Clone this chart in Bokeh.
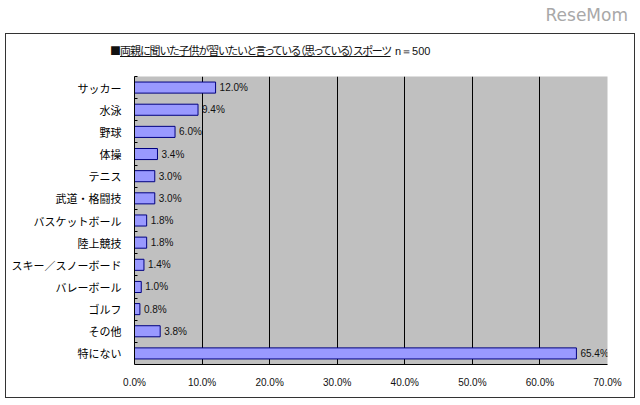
from bokeh.plotting import figure
from bokeh.models import (ColumnDataSource, Range1d, FixedTicker, Div,
                          NumeralTickFormatter)
from bokeh.layouts import column
from bokeh.embed import file_html
from bokeh.resources import INLINE

# --- data (top to bottom) ---
sports = ["サッカー", "水泳", "野球", "体操", "テニス", "武道・格闘技",
          "バスケットボール", "陸上競技", "スキー／スノーボード", "バレーボール",
          "ゴルフ", "その他", "特にない"]
pct = [12.0, 9.4, 6.0, 3.4, 3.0, 3.0, 1.8, 1.8, 1.4, 1.0, 0.8, 3.8, 65.4]
x_ticks = [0, 10, 20, 30, 40, 50, 60, 70]

title_main = "両親に聞いた子供が習いたいと言っている（思っている）スポーツ"
title_n = "n＝500"

pos = list(range(len(sports)))
src = ColumnDataSource(dict(
    y=pos,
    v=pct,
    lbl=[f"{v:.1f}%" for v in pct],
))

p = figure(
    width=628, height=321,
    x_range=Range1d(0, 70),
    y_range=Range1d(len(sports) - 0.5, -0.5),
    toolbar_location=None,
    output_backend="svg",
    min_border_left=128, min_border_right=27,
    min_border_top=0, min_border_bottom=33,
    margin=0,
)
p.title.visible = False
p.background_fill_color = "#C0C0C0"
p.border_fill_color = "white"
p.outline_line_color = None

# grid
p.ygrid.grid_line_color = None
p.xgrid.ticker = FixedTicker(ticks=x_ticks)
p.xgrid.grid_line_color = "black"
p.xgrid.grid_line_width = 1

# x axis
p.xaxis.ticker = FixedTicker(ticks=x_ticks)
p.xaxis.formatter = NumeralTickFormatter(format="0.0")
p.xaxis.major_label_overrides = {t: f"{t:.1f}%" for t in x_ticks}
p.xaxis.major_tick_line_color = None
p.xaxis.minor_tick_line_color = None
p.xaxis.axis_line_color = "black"
p.xaxis.major_label_standoff = 6
p.xaxis.major_label_text_font = "Liberation Sans"
p.xaxis.major_label_text_font_size = "10px"
p.xaxis.major_label_text_color = "#111111"

# y axis
p.yaxis.ticker = FixedTicker(ticks=pos, minor_ticks=[i - 0.5 for i in pos])
p.yaxis.major_label_overrides = {i: s for i, s in enumerate(sports)}
p.yaxis.major_tick_line_color = None
p.yaxis.minor_tick_line_color = "black"
p.yaxis.minor_tick_in = 3
p.yaxis.minor_tick_out = 0
p.yaxis.axis_line_color = "black"
p.yaxis.major_label_standoff = 7
p.yaxis.major_label_text_font = "Noto Sans CJK JP"
p.yaxis.major_label_text_font_size = "11px"
p.yaxis.major_label_text_color = "#000000"

# bars
p.hbar(y="y", left=0, right="v", height=0.5, source=src,
       fill_color="#9999FF", line_color="#000080", line_width=1)
p.text(x="v", y="y", text="lbl", source=src, x_offset=4,
       text_baseline="middle", text_align="left",
       text_font_size="10px", text_color="#111111",
       text_font={"value": "Liberation Sans"})

# title as html so it can be underlined
title = Div(
    text=(
        '<div style="padding-left:104px;padding-top:8px;line-height:16px;'
        'font-family:\'Noto Sans CJK JP\';font-size:11px;color:#111111;'
        'font-feature-settings:\'palt\';letter-spacing:-1px;white-space:nowrap;">'
        f'■<u>{title_main}</u>&nbsp;&nbsp;&nbsp;'
        f'<span style="font-family:\'Liberation Sans\';letter-spacing:0">{title_n}</span></div>'
    ),
    width=628, height=42, margin=0,
)

boxed = column(title, p, margin=(0, 5, 0, 5),
               styles={"border": "1px solid #333333"})

logo = Div(
    text='<div style="width:628px;text-align:right;line-height:30px;'
         'font-family:\'DejaVu Sans\';font-size:17px;color:#a8a8a8;">ReseMom</div>',
    width=640, height=33, margin=0,
)

open("out.html", "w").write(file_html(column(logo, boxed), INLINE))
